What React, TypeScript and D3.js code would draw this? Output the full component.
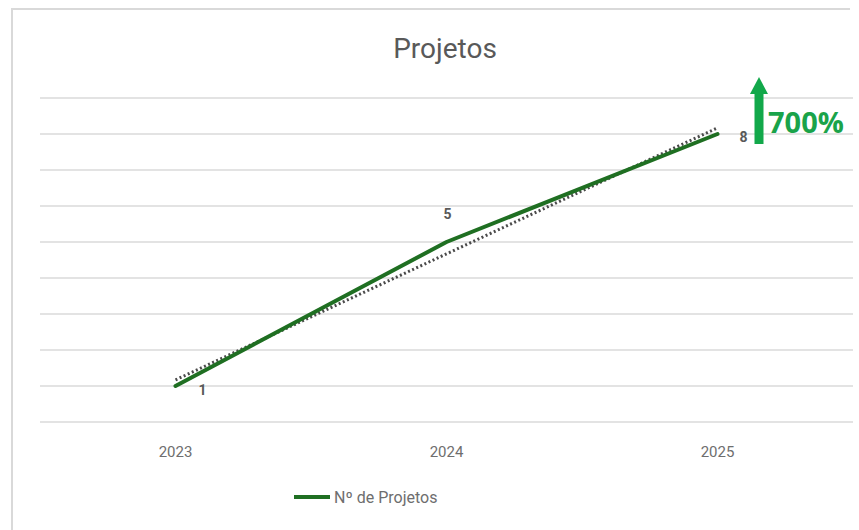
import * as d3 from 'd3';
import React, { useEffect, useRef } from 'react';

const years = ['2023', '2024', '2025'];
const projetos = [1, 5, 8];
const trend = [1.17, 4.67, 8.17];
const yTicks = [0, 1, 2, 3, 4, 5, 6, 7, 8, 9];
const growthLabel = '700%';

const W = 859;
const H = 530;

export default function App() {
  const svgRef = useRef<SVGSVGElement>(null);

  useEffect(() => {
    const svg = d3.select(svgRef.current);
    svg.selectAll('*').remove();

    const left = 40, right = 853, top = 98, bottom = 422;
    const x = d3.scaleBand<string>().domain(years).range([left, right]);
    const y = d3.scaleLinear().domain([0, 9]).range([bottom, top]);
    const cx = (d: string) => (x(d) ?? 0) + x.bandwidth() / 2;

    // frame
    svg.append('rect').attr('width', W).attr('height', H).attr('fill', '#fff');
    svg.append('path')
      .attr('d', `M12,${H} L12,9 L850,9`)
      .attr('fill', 'none')
      .attr('stroke', '#d9d9d9')
      .attr('stroke-width', 2);

    // title
    svg.append('text')
      .attr('x', 445).attr('y', 58)
      .attr('text-anchor', 'middle')
      .attr('font-family', 'Roboto, sans-serif')
      .attr('font-size', 28)
      .attr('fill', '#595959')
      .text('Projetos');

    // grid
    svg.append('g')
      .selectAll('line')
      .data(yTicks)
      .join('line')
      .attr('x1', left).attr('x2', right)
      .attr('y1', d => y(d)).attr('y2', d => y(d))
      .attr('stroke', '#e3e3e3')
      .attr('stroke-width', 2);

    // x axis labels
    svg.append('g')
      .selectAll('text')
      .data(years)
      .join('text')
      .attr('x', d => cx(d))
      .attr('y', 457)
      .attr('text-anchor', 'middle')
      .attr('font-family', 'Roboto, sans-serif')
      .attr('font-size', 15)
      .attr('fill', '#6e6e6e')
      .text(d => d);

    // trend line (dotted)
    const trendLine = d3.line<number>()
      .x((_, i) => cx(years[i]))
      .y(d => y(d));
    svg.append('path')
      .attr('d', trendLine(trend))
      .attr('fill', 'none')
      .attr('stroke', '#4a4a4a')
      .attr('stroke-width', 3)
      .attr('stroke-dasharray', '2 2.5');

    // main line
    const line = d3.line<number>()
      .x((_, i) => cx(years[i]))
      .y(d => y(d));
    svg.append('path')
      .attr('d', line(projetos))
      .attr('fill', 'none')
      .attr('stroke', '#1f6f22')
      .attr('stroke-width', 4)
      .attr('stroke-linejoin', 'round')
      .attr('stroke-linecap', 'round');

    // data labels
    const labelOffsets = [{ dx: 27, dy: 9 }, { dx: 1, dy: -23 }, { dx: 26, dy: 8 }];
    svg.append('g')
      .selectAll('text')
      .data(projetos)
      .join('text')
      .attr('x', (_, i) => cx(years[i]) + labelOffsets[i].dx)
      .attr('y', (d, i) => y(d) + labelOffsets[i].dy)
      .attr('text-anchor', 'middle')
      .attr('font-family', 'Roboto, sans-serif')
      .attr('font-weight', 'bold')
      .attr('font-size', 14)
      .attr('fill', '#595959')
      .text(d => d);

    // growth arrow
    const ax = 759;
    const g = svg.append('g').attr('fill', '#12a84a');
    g.append('rect').attr('x', ax - 4.5).attr('y', 92).attr('width', 9).attr('height', 52);
    g.append('path').attr('d', `M${ax},77 L${ax + 9},94 L${ax - 9},94 Z`);
    svg.append('text')
      .attr('x', 768).attr('y', 133)
      .attr('font-family', 'Open Sans, sans-serif')
      .attr('font-weight', 'bold')
      .attr('font-size', 29)
      .attr('fill', '#1aa34a')
      .text(growthLabel);

    // legend
    svg.append('line')
      .attr('x1', 294).attr('x2', 330)
      .attr('y1', 497).attr('y2', 497)
      .attr('stroke', '#1f6f22')
      .attr('stroke-width', 4);
    svg.append('text')
      .attr('x', 334).attr('y', 503)
      .attr('font-family', 'Roboto, sans-serif')
      .attr('font-size', 16)
      .attr('fill', '#6e6e6e')
      .text('Nº de Projetos');
  }, []);

  return (
    <svg
      ref={svgRef}
      width={W}
      height={H}
      style={{ position: 'absolute', left: 0, top: 0, display: 'block' }}
    />
  );
}
